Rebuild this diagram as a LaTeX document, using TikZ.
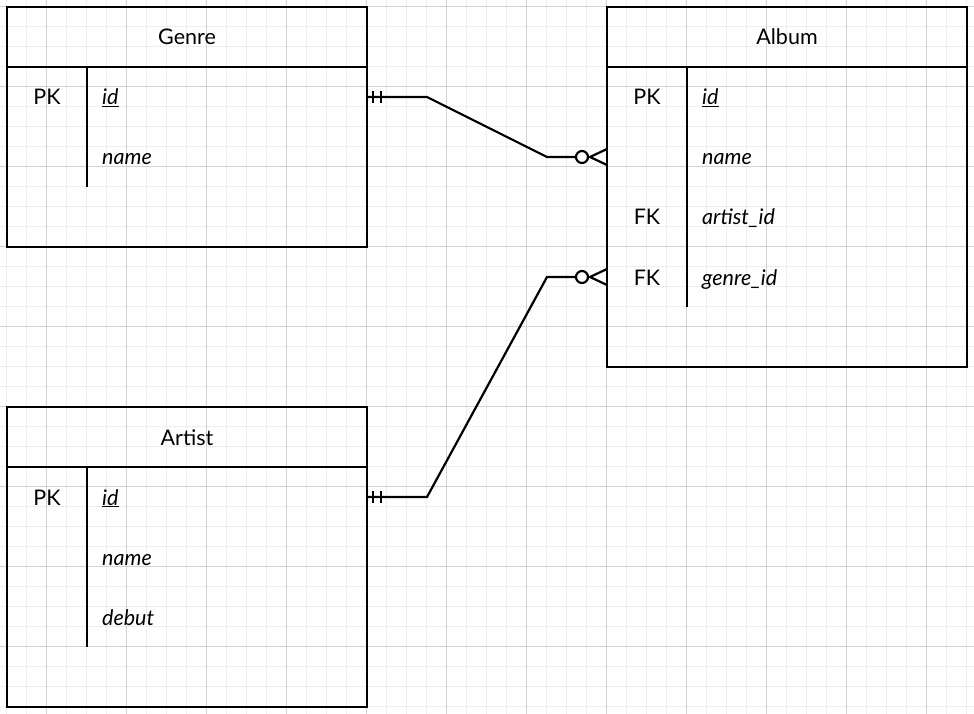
\documentclass[tikz,border=0pt]{standalone}
\usepackage{fontspec}
\setmainfont{Lato}
\usetikzlibrary{calc}
\begin{document}
\begin{tikzpicture}[x=1pt,y=-1pt,
  tbl/.style={draw=black, line width=2.2pt, inner sep=0pt, outer sep=0pt, anchor=north west},
  sepline/.style={line width=2.2pt},
  txt/.style={font=\fontsize{21.5}{25}\selectfont, inner sep=0pt},
  hdr/.style={txt, anchor=base},
  keytxt/.style={txt, anchor=base},
  fld/.style={txt, anchor=base west, font=\fontsize{21.5}{25}\selectfont\itshape},
  rel/.style={line width=2.2pt, line join=miter},
  minorgrid/.style={draw={rgb,255:red,238;green,238;blue,238}, line width=1pt},
  majorgrid/.style={draw={rgb,255:red,210;green,210;blue,210}, line width=1pt}]
\useasboundingbox (0,0) rectangle (974,714);
\fill[white] (0,0) rectangle (974,714);
% grid
\foreach \v in {6.5,26.5,...,974} {
  \draw[minorgrid] (\v,0) -- (\v,714);
}
\foreach \v in {6.5,26.5,...,714} {
  \draw[minorgrid] (0,\v) -- (974,\v);
}
\foreach \v in {46.5,126.5,...,974} {
  \draw[majorgrid] (\v,0) -- (\v,714);
}
\foreach \v in {6.5,86.5,...,714} {
  \draw[majorgrid] (0,\v) -- (974,\v);
}

% Genre table
\node[tbl, minimum width=360pt, minimum height=240pt] (genre) at (7,7) {};
\draw[sepline] (7,67) -- (367,67);
\draw[sepline] (87,67) -- (87,187);
\node[hdr] (genreT) at (187,45) {Genre};
\node[keytxt] (genrePK) at (47,105) {PK};
\node[fld] (genreId) at (102,105) {\underline{id}};
\node[fld] (genreName) at (102,165) {name};

% Album table
\node[tbl, minimum width=360pt, minimum height=360pt] (album) at (607,7) {};
\draw[sepline] (607,67) -- (967,67);
\draw[sepline] (687,67) -- (687,307);
\node[hdr] (albumT) at (787,45) {Album};
\node[keytxt] (albumPK) at (647,105) {PK};
\node[fld] (albumId) at (702,105) {\underline{id}};
\node[fld] (albumName) at (702,165) {name};
\node[keytxt] (albumFK1) at (647,225) {FK};
\node[fld] (albumArtist) at (702,225) {artist\_id};
\node[keytxt] (albumFK2) at (647,285) {FK};
\node[fld] (albumGenre) at (702,285) {genre\_id};

% Artist table
\node[tbl, minimum width=360pt, minimum height=300pt] (artist) at (7,407) {};
\draw[sepline] (7,467) -- (367,467);
\draw[sepline] (87,467) -- (87,647);
\node[hdr] (artistT) at (187,445) {Artist};
\node[keytxt] (artistPK) at (47,505) {PK};
\node[fld] (artistId) at (102,505) {\underline{id}};
\node[fld] (artistName) at (102,565) {name};
\node[fld] (artistDebut) at (102,625) {debut};

% connector endpoints
\coordinate (gOut) at (genre.east |- 0,97);
\coordinate (aInG) at (album.west |- 0,157);
\coordinate (rOut) at (artist.east |- 0,497);
\coordinate (aInR) at (album.west |- 0,277);

% Genre -> Album
\draw[rel] (gOut) -- ++(60,0) -- ($(aInG)+(-60,0)$) -- ($(aInG)+(-31,0)$);
\draw[rel] ($(gOut)+(6,-6)$) -- ($(gOut)+(6,6)$);
\draw[rel] ($(gOut)+(14,-6)$) -- ($(gOut)+(14,6)$);
\draw[rel] ($(aInG)+(-25,0)$) circle (6);
\draw[rel] ($(aInG)+(0,-8)$) -- ($(aInG)+(-17,0)$) -- ($(aInG)+(0,8)$);

% Artist -> Album
\draw[rel] (rOut) -- ++(60,0) -- ($(aInR)+(-60,0)$) -- ($(aInR)+(-31,0)$);
\draw[rel] ($(rOut)+(6,-6)$) -- ($(rOut)+(6,6)$);
\draw[rel] ($(rOut)+(14,-6)$) -- ($(rOut)+(14,6)$);
\draw[rel] ($(aInR)+(-25,0)$) circle (6);
\draw[rel] ($(aInR)+(0,-8)$) -- ($(aInR)+(-17,0)$) -- ($(aInR)+(0,8)$);
\end{tikzpicture}
\end{document}
